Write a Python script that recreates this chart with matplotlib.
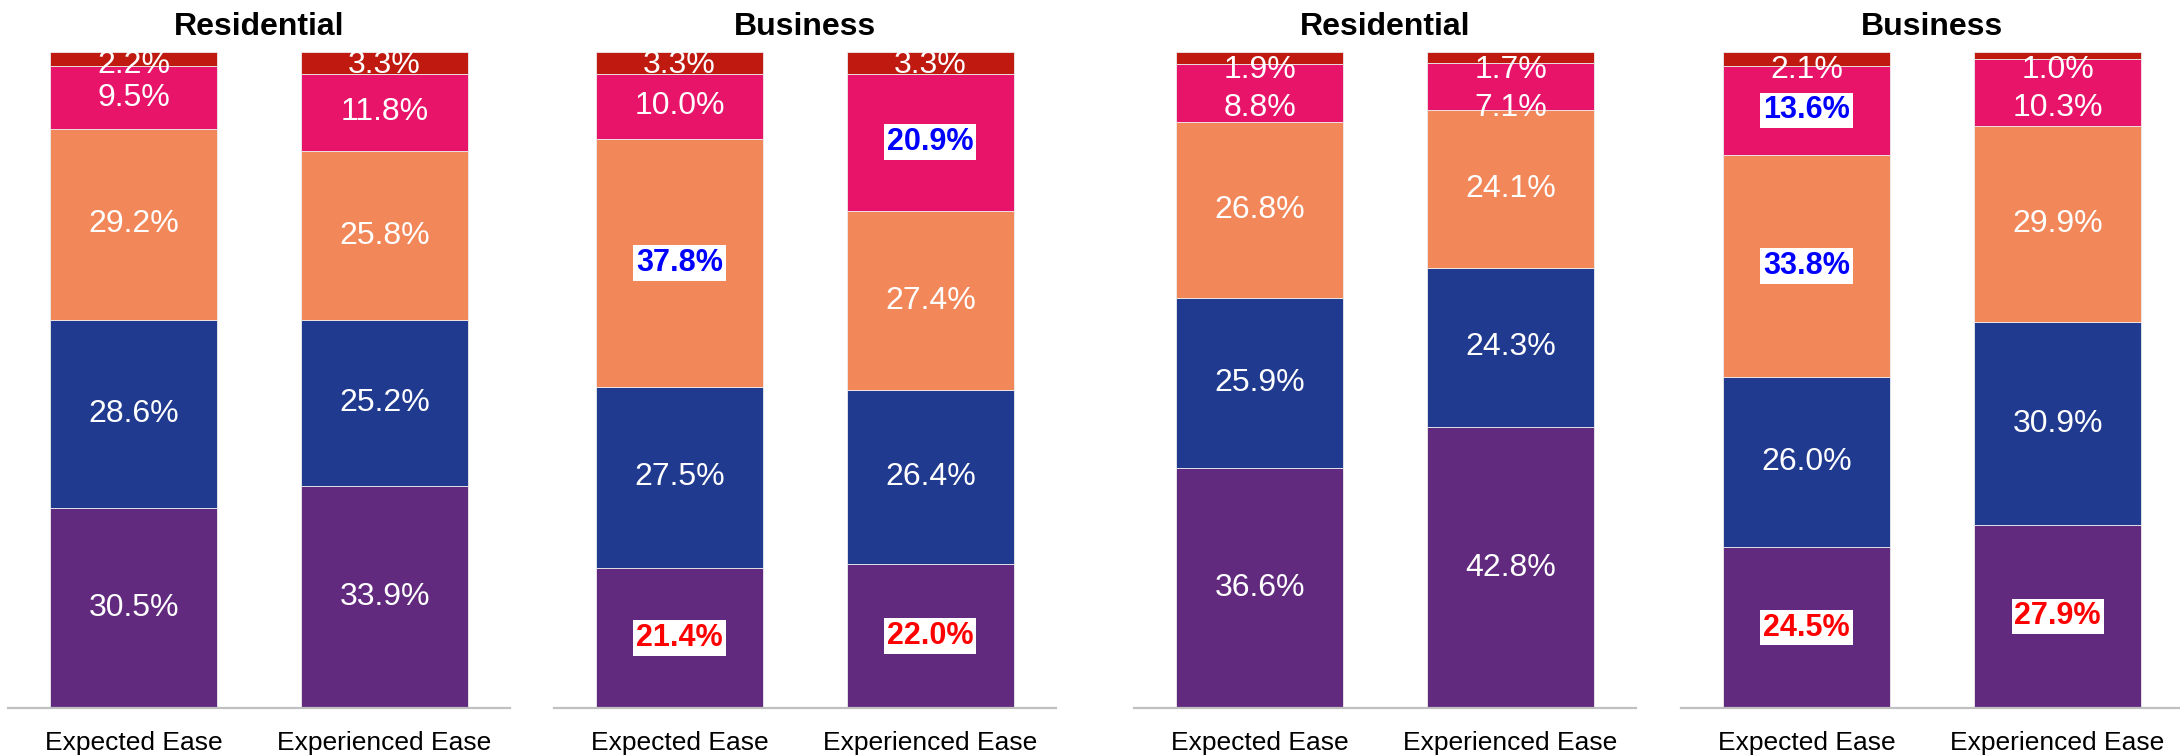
import numpy as np
import matplotlib
matplotlib.use("Agg")
import matplotlib.pyplot as plt

plt.rcParams['font.family'] = ['Liberation Sans', 'DejaVu Sans']

# data (bottom -> top segments)
titles = ["Residential", "Business", "Residential", "Business"]
bar_names = ["Expected Ease", "Experienced Ease"]
seg_colors = ["#612A7E", "#1F3A8F", "#F2885A", "#E8146A", "#BF1910"]

res1_expected = [30.5, 28.6, 29.2, 9.5, 2.2]
res1_experienced = [33.9, 25.2, 25.8, 11.8, 3.3]
bus1_expected = [21.4, 27.5, 37.8, 10.0, 3.3]
bus1_experienced = [22.0, 26.4, 27.4, 20.9, 3.3]
res2_expected = [36.6, 25.9, 26.8, 8.8, 1.9]
res2_experienced = [42.8, 24.3, 24.1, 7.1, 1.7]
bus2_expected = [24.5, 26.0, 33.8, 13.6, 2.1]
bus2_experienced = [27.9, 30.9, 29.9, 10.3, 1.0]

panels = [
    [res1_expected, res1_experienced],
    [bus1_expected, bus1_experienced],
    [res2_expected, res2_experienced],
    [bus2_expected, bus2_experienced],
]

# highlighted labels: (panel, bar, segment) -> colour
highlights = {
    (1, 0, 2): "blue", (1, 1, 3): "blue",
    (1, 0, 0): "red", (1, 1, 0): "red",
    (3, 0, 2): "blue", (3, 0, 3): "blue",
    (3, 0, 0): "red", (3, 1, 0): "red",
}

# label layout: highest label y and minimal gap to the one below
top_cap = [98.0, 98.0, 97.3, 97.3]
min_gap = [5.0, 5.0, 5.9, 5.9]

fig = plt.figure(figsize=(21.8, 7.55), dpi=100)
lefts = [0.0037, 0.2541, 0.5202, 0.7711]
bottom, width, height = 0.0623, 0.2303, 0.8689

x = np.arange(len(bar_names))
for p, (data, title) in enumerate(zip(panels, titles)):
    ax = fig.add_axes([lefts[p], bottom, width, height])
    for b, vals in enumerate(data):
        cum = np.concatenate([[0], np.cumsum(vals)])
        centers = cum[:-1] + np.array(vals) / 2
        ys = centers.copy()
        ys[-1] = min(ys[-1], top_cap[p])
        for s in range(len(vals) - 2, -1, -1):
            ys[s] = min(ys[s], ys[s + 1] - min_gap[p])
        for s, v in enumerate(vals):
            ax.bar(x[b], v, bottom=cum[s], width=0.664, color=seg_colors[s],
                   edgecolor="#EDEDED", linewidth=0.6)
            key = (p, b, s)
            if key in highlights:
                ax.text(x[b], ys[s], f"{v:.1f}%", ha="center", va="center",
                        fontsize=22, fontweight="bold", color=highlights[key],
                        bbox=dict(facecolor="white", edgecolor="none", pad=2))
            else:
                ax.text(x[b], ys[s], f"{v:.1f}%", ha="center", va="center",
                        fontsize=23, color="white", clip_on=True)
    ax.set_xlim(-0.5, 1.5)
    ax.set_ylim(0, 100)
    ax.set_xticks(x)
    ax.set_xticklabels(bar_names, fontsize=19)
    ax.tick_params(axis="x", length=0, pad=16.5)
    ax.set_yticks([])
    for sp in ["top", "left", "right"]:
        ax.spines[sp].set_visible(False)
    ax.spines["bottom"].set_color("#C0C0C0")
    ax.spines["bottom"].set_linewidth(1.6)
    ax.set_title(title, fontsize=23, fontweight="bold", pad=12)

fig.savefig("out.png", dpi=100)
